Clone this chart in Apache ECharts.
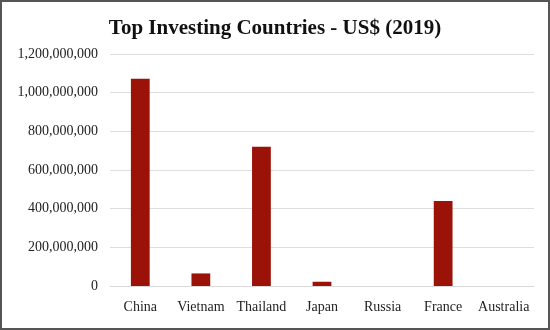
<!DOCTYPE html>
<html>
<head>
<meta charset="utf-8">
<script src="https://cdn.jsdelivr.net/npm/echarts@6/dist/echarts.min.js"></script>
<style>
  html, body { margin: 0; padding: 0; background: #fff; }
  #chart { width: 550px; height: 330px; box-sizing: border-box; border: 2px solid #555; }
</style>
</head>
<body>
<div id="chart"></div>
<script>
// Foreign investment by country, 2019 (US$)
const countries = ['China', 'Vietnam', 'Thailand', 'Japan', 'Russia', 'France', 'Australia'];
const investment = [1072000000, 65000000, 720000000, 22000000, 0, 440000000, 0];

const serif = '"Liberation Serif", "DejaVu Serif", serif';

const chart = echarts.init(document.getElementById('chart'));
chart.setOption({
  animation: false,
  title: {
    text: 'Top Investing Countries - US$ (2019)',
    left: 'center',
    top: 11,
    textStyle: { fontFamily: serif, fontSize: 21, fontWeight: 'bold', color: '#111' }
  },
  grid: { left: 108, right: 14, top: 52, bottom: 42 },
  xAxis: {
    type: 'category',
    data: countries,
    axisLine: { lineStyle: { color: '#d9d9d9' } },
    axisTick: { show: false },
    axisLabel: { interval: 0, fontFamily: serif, fontSize: 14, color: '#222', margin: 14 }
  },
  yAxis: {
    type: 'value',
    min: 0,
    max: 1200000000,
    interval: 200000000,
    axisLine: { show: false },
    axisTick: { show: false },
    splitLine: { lineStyle: { color: '#dedede' } },
    axisLabel: {
      fontFamily: serif, fontSize: 14, color: '#222', margin: 12,
      formatter: v => v.toLocaleString('en-US')
    }
  },
  series: [{
    type: 'bar',
    data: investment,
    barWidth: '31%',
    itemStyle: { color: '#9a1208' }
  }]
});
</script>
</body>
</html>
